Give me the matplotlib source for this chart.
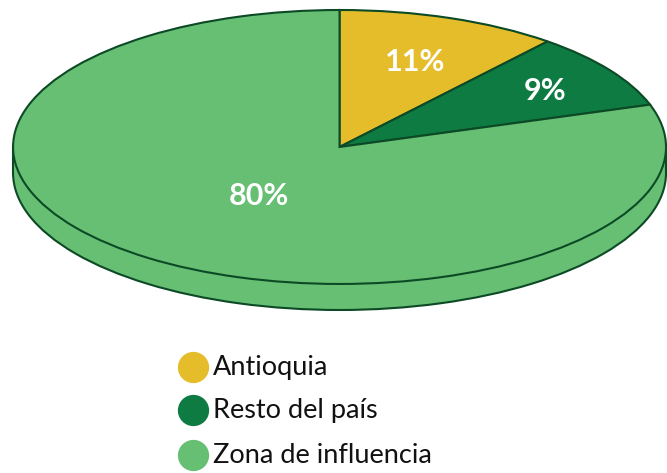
import matplotlib.pyplot as plt
from matplotlib.patches import Rectangle
import numpy as np

# Data
labels = ['Antioquia', 'Resto del país', 'Zona de influencia']
values = [11, 9, 80]
colors = ['#E5BD2A', '#0E7B43', '#67BF73']
label_dist = [0.68, 0.76, 0.42]

edge = '#0C4A26'
depth = 0.19

plt.rcParams['font.family'] = ['Lato', 'DejaVu Sans']

fig = plt.figure(figsize=(6.67, 4.73), dpi=100)
ax = fig.add_axes([0, 0, 1, 1])

# side of the "3D" pie: lower disc + band
ax.pie(values, colors=[colors[2]] * len(values), startangle=90, counterclock=False,
       center=(0, -depth), wedgeprops=dict(edgecolor=edge, linewidth=1.5))
ax.add_patch(Rectangle((-1, -depth), 2, depth, facecolor=colors[2], edgecolor='none', zorder=2))
ax.plot([-1, -1], [-depth, 0], color=edge, lw=1.5, zorder=3)
ax.plot([1, 1], [-depth, 0], color=edge, lw=1.5, zorder=3)

# top disc
wedges, _ = ax.pie(values, colors=colors, startangle=90, counterclock=False,
                   wedgeprops=dict(edgecolor=edge, linewidth=1.5))
for w in wedges:
    w.set_zorder(4)

theta = 90.0
for v, r in zip(values, label_dist):
    mid = np.deg2rad(theta - v * 3.6 / 2)
    ax.text(r * np.cos(mid), r * np.sin(mid), f'{v}%', ha='center', va='center_baseline',
            color='white', fontsize=22, fontweight='bold', zorder=5)
    theta -= v * 3.6

ax.set_aspect('auto')
ax.set_xlim(-1.04, 1.003)
ax.set_ylim(-2.38, 1.073)
ax.axis('off')

# legend
leg_y = [0.224, 0.133, 0.038]
for lab, col, y in zip(labels, colors, leg_y):
    fig.add_artist(plt.Line2D([0.289], [y], marker='o', markersize=21.5,
                              color=col, linestyle='none', transform=fig.transFigure))
    fig.text(0.319, y, lab, ha='left', va='center', fontsize=19.5, color='#111111')

fig.savefig('out.png', dpi=100)
